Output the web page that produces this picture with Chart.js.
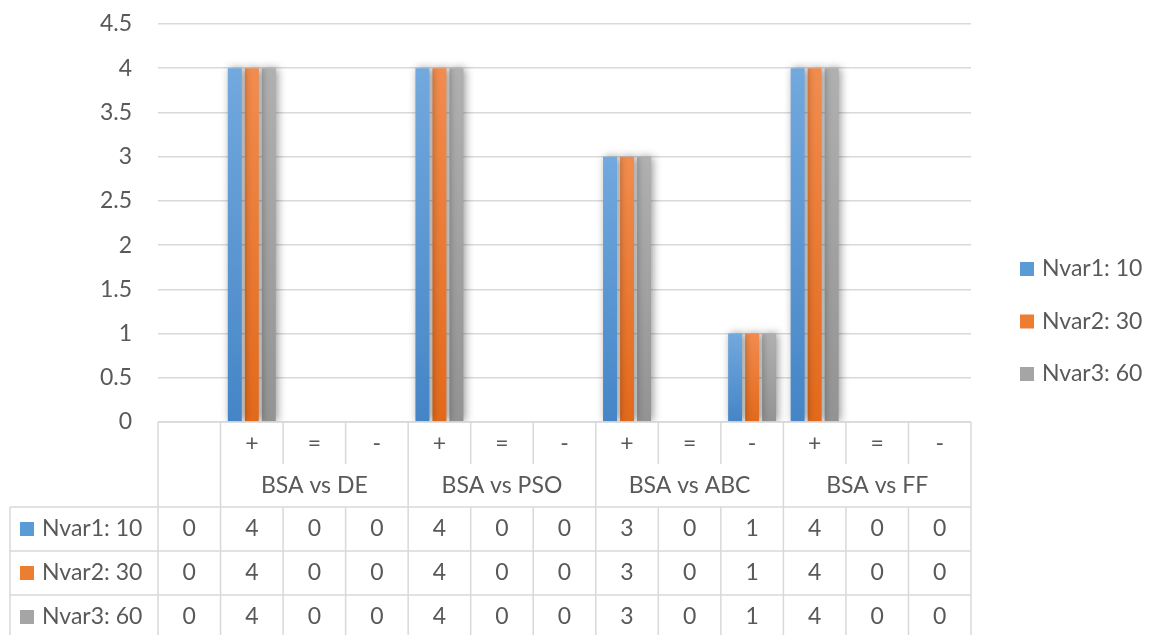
<!DOCTYPE html>
<html lang="en">

<head>
    <meta charset="UTF-8">
    <title>BSA comparison</title>
    <script src="https://cdn.jsdelivr.net/npm/chart.js"></script>
    <style>
        body { margin: 0; background: #fff; }
        #wrap { width: 1161px; height: 635px; position: relative; }
    </style>
</head>

<body>
    <div id="wrap">
        <canvas id="myBarChart" width="1161" height="635"></canvas>
    </div>

    <script>
        // data
        var categories = ['', '+', '=', '-', '+', '=', '-', '+', '=', '-', '+', '=', '-'];
        var groups = ['BSA vs DE', 'BSA vs PSO', 'BSA vs ABC', 'BSA vs FF'];
        var groupStart = [1, 4, 7, 10];   // first category index of each group
        var seriesNames = ['Nvar1: 10', 'Nvar2: 30', 'Nvar3: 60'];
        var nvar1 = [0, 4, 0, 0, 4, 0, 0, 3, 0, 1, 4, 0, 0];
        var nvar2 = [0, 4, 0, 0, 4, 0, 0, 3, 0, 1, 4, 0, 0];
        var nvar3 = [0, 4, 0, 0, 4, 0, 0, 3, 0, 1, 4, 0, 0];
        var yMin = 0, yMax = 4.5, yStep = 0.5;

        var FONT = 'Lato, "Open Sans", sans-serif';
        var FSIZE = 23;
        var TXT = '#595959';
        var LINE = '#d9d9d9';
        // top / bottom colours for each series
        var colors = [['#72a9de', '#4585c6'], ['#f28c4e', '#e2691a'], ['#b0b0b0', '#939393']];
        var legendColors = ['#5b9bd5', '#ed7d31', '#a5a5a5'];

        function barFill(i) {
            return function (c) {
                var chart = c.chart, area = chart.chartArea;
                if (!area || c.parsed == null) return legendColors[i];
                var top = chart.scales.y.getPixelForValue(c.parsed.y);
                if (!(area.bottom - top > 1)) return legendColors[i];
                var g = chart.ctx.createLinearGradient(0, top, 0, area.bottom);
                g.addColorStop(0, colors[i][0]);
                g.addColorStop(1, colors[i][1]);
                return g;
            };
        }

        // soft shadow behind the columns
        var shadowPlugin = {
            id: 'shadow',
            beforeDatasetsDraw: function (chart) {
                var ctx = chart.ctx;
                ctx.save();
                ctx.shadowColor = 'rgba(0,0,0,0.4)';
                ctx.shadowBlur = 8;
                ctx.shadowOffsetX = 2;
                ctx.shadowOffsetY = 0;
            },
            afterDatasetsDraw: function (chart) {
                chart.ctx.restore();
            }
        };

        // data table under the plot + legend at the right
        var tablePlugin = {
            id: 'dataTable',
            afterDraw: function (chart) {
                var ctx = chart.ctx, x = chart.scales.x, area = chart.chartArea;
                var n = categories.length;
                var w = (area.right - area.left) / n;
                var y0 = area.bottom;
                var rowH = 43;
                var hdr1 = y0 + rowH, hdr2 = y0 + 2 * rowH - 1;
                var leftX = 10;
                var bottom = chart.height + 2;

                ctx.save();
                ctx.strokeStyle = LINE;
                ctx.lineWidth = 1.5;
                ctx.beginPath();
                // top border of the table
                ctx.moveTo(area.left, y0); ctx.lineTo(area.right, y0);
                // horizontal lines of data rows
                for (var r = 0; r < seriesNames.length; r++) {
                    var yy = hdr2 + r * 44;
                    ctx.moveTo(leftX, yy); ctx.lineTo(area.right, yy);
                }
                // vertical lines
                for (var i = 0; i <= n; i++) {
                    var xx = area.left + i * w;
                    var isGroupEdge = i === 0 || i === 1 || i === n || groupStart.indexOf(i) >= 0;
                    if (isGroupEdge) {
                        ctx.moveTo(xx, y0); ctx.lineTo(xx, bottom);
                    } else {
                        ctx.moveTo(xx, y0); ctx.lineTo(xx, hdr1 - 1);
                        ctx.moveTo(xx, hdr2); ctx.lineTo(xx, bottom);
                    }
                }
                ctx.moveTo(leftX, hdr2); ctx.lineTo(leftX, bottom);
                ctx.stroke();

                ctx.fillStyle = TXT;
                ctx.font = FSIZE + 'px ' + FONT;
                ctx.textAlign = 'center';
                ctx.textBaseline = 'middle';
                // sub labels
                for (var i = 0; i < n; i++) {
                    ctx.fillText(categories[i], x.getPixelForValue(i), y0 + 22);
                }
                // group labels
                for (var g = 0; g < groups.length; g++) {
                    var cx = x.getPixelForValue(groupStart[g] + 1);
                    ctx.fillText(groups[g], cx, y0 + 64);
                }
                // data rows
                var series = [nvar1, nvar2, nvar3];
                for (var r = 0; r < series.length; r++) {
                    var cy = hdr2 + r * 44 + 22;
                    for (var i = 0; i < n; i++) {
                        ctx.fillText(String(series[r][i]), x.getPixelForValue(i), cy);
                    }
                    ctx.textAlign = 'left';
                    ctx.fillStyle = legendColors[r];
                    ctx.fillRect(20, cy - 7, 14, 14);
                    ctx.fillStyle = TXT;
                    ctx.fillText(seriesNames[r], 42, cy);
                    ctx.textAlign = 'center';
                }

                // legend
                ctx.textAlign = 'left';
                for (var r = 0; r < seriesNames.length; r++) {
                    var ly = 269 + r * 52.5;
                    ctx.fillStyle = legendColors[r];
                    ctx.fillRect(1020, ly - 7, 14, 14);
                    ctx.fillStyle = TXT;
                    ctx.fillText(seriesNames[r], 1042, ly);
                }
                ctx.restore();
            }
        };

        var ctx = document.getElementById('myBarChart').getContext('2d');
        var myBarChart = new Chart(ctx, {
            type: 'bar',
            data: {
                labels: categories,
                datasets: [
                    { label: seriesNames[0], data: nvar1, backgroundColor: barFill(0) },
                    { label: seriesNames[1], data: nvar2, backgroundColor: barFill(1) },
                    { label: seriesNames[2], data: nvar3, backgroundColor: barFill(2) }
                ]
            },
            options: {
                responsive: false,
                animation: false,
                categoryPercentage: 0.816,
                barPercentage: 0.82,
                layout: { padding: { left: 0, top: 24, right: 190, bottom: 213 } },
                plugins: {
                    legend: { display: false },
                    tooltip: { enabled: false }
                },
                scales: {
                    x: { display: false },
                    y: {
                        min: yMin,
                        max: yMax,
                        afterFit: function (s) {
                            s.width = 158;
                            s.paddingTop = 0;
                            s.paddingBottom = 0;
                        },
                        border: { display: false },
                        grid: { color: LINE, lineWidth: 1.5, drawTicks: false },
                        ticks: {
                            stepSize: yStep,
                            padding: 26,
                            color: TXT,
                            font: { family: FONT, size: FSIZE },
                            callback: function (v) { return String(v); }
                        }
                    }
                }
            },
            plugins: [shadowPlugin, tablePlugin]
        });
    </script>
</body>

</html>
